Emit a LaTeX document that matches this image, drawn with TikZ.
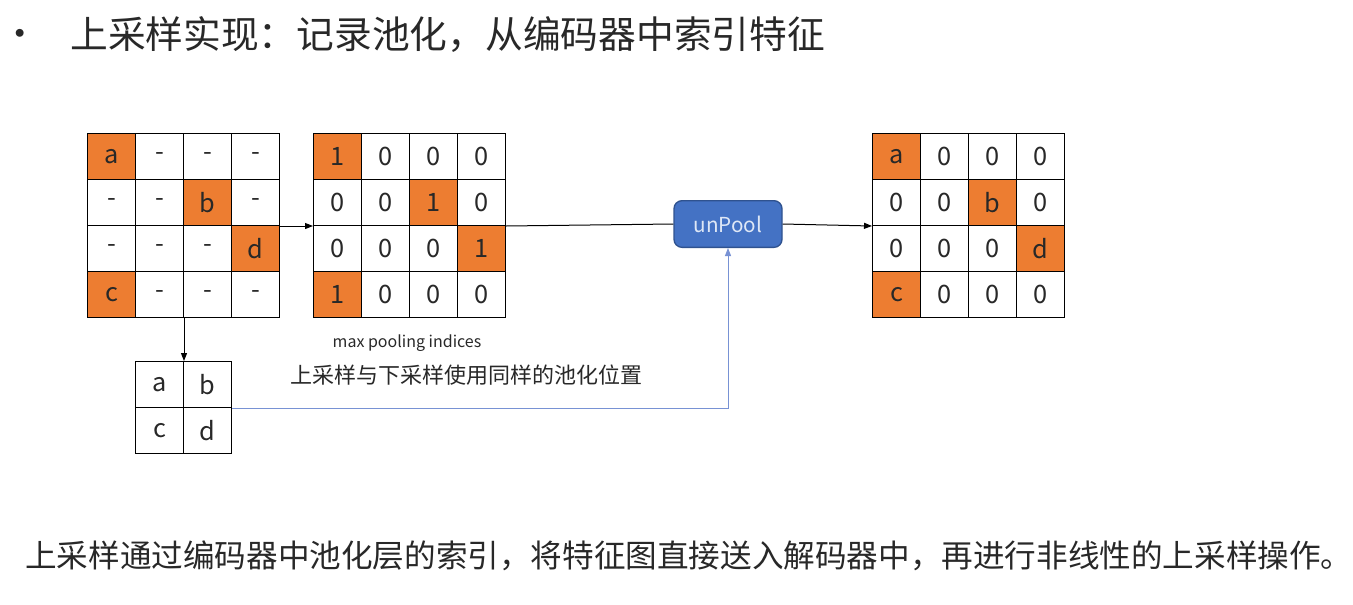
\documentclass[tikz,border=0pt]{standalone}
\usepackage{fontspec}
\setmainfont{Noto Sans CJK SC}
\usetikzlibrary{arrows.meta}

\definecolor{cellorange}{RGB}{237,125,49}
\definecolor{poolblue}{RGB}{68,114,196}
\definecolor{pooledge}{RGB}{47,82,143}
\definecolor{pooltext}{RGB}{222,231,246}
\definecolor{linkblue}{RGB}{120,146,212}
\definecolor{txtgray}{RGB}{40,40,40}

\tikzset{
  cell/.style={draw=black, line width=0.75pt, anchor=north west, inner sep=0pt,
    minimum width=36pt, minimum height=34.5pt, text=txtgray,
    font=\fontsize{19}{21}\selectfont},
  unpoolbox/.style={draw=pooledge, fill=poolblue, line width=1pt, rounded corners=6pt,
    minimum width=81pt, minimum height=35pt, text=pooltext,
    font=\fontsize{15.5}{18}\selectfont},
  link/.style={line width=0.75pt, -{Triangle[length=6pt,width=4.5pt]}},
}

\begin{document}
\begin{tikzpicture}[x=0.75pt,y=0.75pt,yscale=-1,xscale=1]
\useasboundingbox (0,0) rectangle (1353,604);

% Title
\node [anchor=west, text=txtgray, inner sep=0pt, font=\fontsize{28}{28}\selectfont] (bullet) at (1,38) {•};
\node [anchor=west, inner sep=0pt, text=txtgray, font=\fontsize{28.3}{32}\selectfont] (title) at (70,35) {上采样实现：记录池化，从编码器中索引特征};

%Shape: Grid, input with max positions
\foreach \r/\c in {1/1,2/3,3/4,4/1}
  \fill [cellorange] ({87+(\c-1)*48},{133+(\r-1)*46}) rectangle +(48,46);
\foreach \row [count=\r] in {{a,-,-,-},{-,-,b,-},{-,-,-,d},{c,-,-,-}}
  \foreach \t [count=\c] in \row
    \node [cell] (L-\r-\c) at ({87+(\c-1)*48},{133+(\r-1)*46}) {\t};

%Shape: Grid, pooling indices
\foreach \r/\c in {1/1,2/3,3/4,4/1}
  \fill [cellorange] ({313+(\c-1)*48},{133+(\r-1)*46}) rectangle +(48,46);
\foreach \row [count=\r] in {{1,0,0,0},{0,0,1,0},{0,0,0,1},{1,0,0,0}}
  \foreach \t [count=\c] in \row
    \node [cell] (M-\r-\c) at ({313+(\c-1)*48},{133+(\r-1)*46}) {\t};

%Shape: Grid, unpooled output
\foreach \r/\c in {1/1,2/3,3/4,4/1}
  \fill [cellorange] ({872+(\c-1)*48},{133+(\r-1)*46}) rectangle +(48,46);
\foreach \row [count=\r] in {{a,0,0,0},{0,0,b,0},{0,0,0,d},{c,0,0,0}}
  \foreach \t [count=\c] in \row
    \node [cell] (R-\r-\c) at ({872+(\c-1)*48},{133+(\r-1)*46}) {\t};

%Shape: Grid, pooled 2x2
\foreach \row [count=\r] in {{a,b},{c,d}}
  \foreach \t [count=\c] in \row
    \node [cell] (S-\r-\c) at ({135+(\c-1)*48},{361+(\r-1)*46}) {\t};

%Shape: unPool
\node [unpoolbox] (unpool) at (728,224) {unPool};

%Straight Lines
\draw [link] (L-2-4.south east) -- (M-2-1.south west);
\draw [link] (L-4-2.south east) -- (S-1-1.north east);
\draw [line width=0.75pt] (M-2-4.south east) -- (unpool.west);
\draw [link] (unpool.east) -- (R-2-1.south west);
\draw [link, draw=linkblue] (S-1-2.south east) -| (unpool.south);

% Text Node
\node [inner sep=0pt, text=txtgray, font=\fontsize{12}{14}\selectfont] (note) at (407,343) {max pooling indices};
% Text Node
\node [anchor=west, inner sep=0pt, text=txtgray, font=\fontsize{16.5}{19}\selectfont] (caption) at (290,375) {上采样与下采样使用同样的池化位置};
% Text Node
\node [anchor=west, inner sep=0pt, text=txtgray, font=\fontsize{23.7}{28}\selectfont] (summary) at (25,556) {上采样通过编码器中池化层的索引，将特征图直接送入解码器中，再进行非线性的上采样操作。};

\end{tikzpicture}
\end{document}
